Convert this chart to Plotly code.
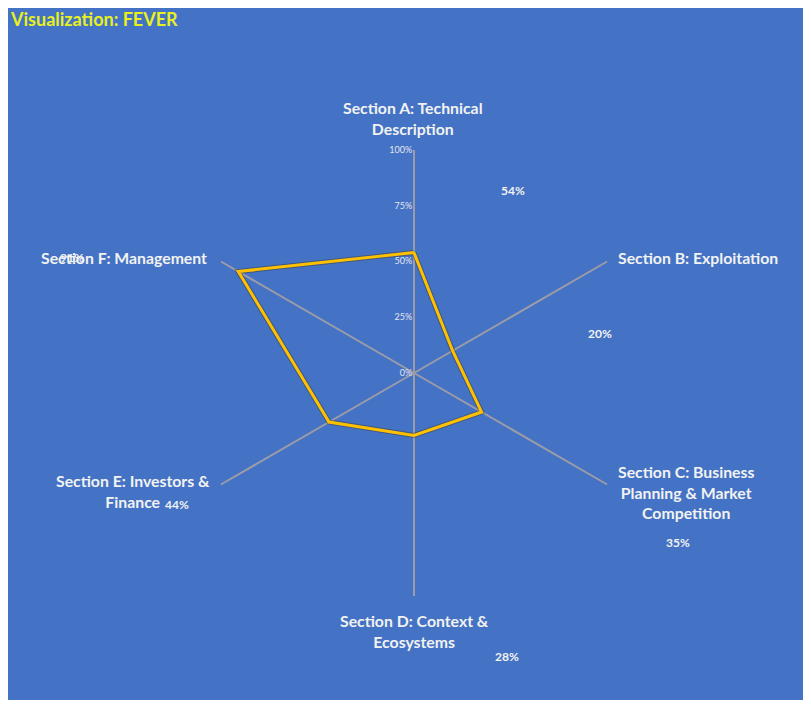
import plotly.graph_objects as go

# page has an 8px body margin, so the figure is sized to fit inside the window
OFF = 8
W, H = 811 - OFF, 708 - 2 * OFF

categories = [
    "Section A: Technical<br>Description",
    "Section B: Exploitation",
    "Section C: Business<br>Planning & Market<br>Competition",
    "Section D: Context &<br>Ecosystems",
    "Section E: Investors &<br>Finance",
    "Section F: Management",
]
values = [0.54, 0.20, 0.35, 0.28, 0.44, 0.91]
value_labels = ["54%", "20%", "35%", "28%", "44%", "91%"]
radial_ticks = [0, 0.25, 0.5, 0.75, 1.0]
radial_ticktext = ["0%", "25%", "50%", "75%", "100%"]

# window-pixel positions for the category and value labels (as in the reference)
cat_pos = [(413, 118), (698, 257), (686, 492), (414, 631), (133, 491), (124, 257)]
val_pos = [(513, 190), (600, 333), (678, 542), (507, 656), (177, 504), (72, 257)]

BLUE = "#4472C4"
GRID = "#9C9CA8"
TXT = "#F2F2F2"


def px(x):
    return (x - OFF) / W


def py(y):
    return 1 - (y - OFF) / H


fig = go.Figure()
# soft shadow under the line
fig.add_trace(go.Scatterpolar(
    r=values + values[:1], theta=categories + categories[:1], mode="lines",
    line=dict(color="rgba(60,50,20,0.4)", width=5), hoverinfo="skip", showlegend=False,
))
fig.add_trace(go.Scatterpolar(
    r=values + values[:1], theta=categories + categories[:1], mode="lines",
    line=dict(color="#FFC000", width=3), name="FEVER", showlegend=False,
))

cx, cy, R = 414, 373, 223
fig.update_layout(
    width=W, height=H,
    margin=dict(l=0, r=0, t=0, b=0),
    paper_bgcolor=BLUE,
    showlegend=False,
    polar=dict(
        bgcolor=BLUE,
        domain=dict(x=[px(cx - R), px(cx + R)], y=[py(cy + R), py(cy - R)]),
        angularaxis=dict(
            direction="clockwise", rotation=90, type="category",
            showgrid=True, gridcolor=GRID, gridwidth=2,
            showline=False, showticklabels=False, ticks="",
        ),
        radialaxis=dict(
            range=[0, 1], angle=90, side="counterclockwise", tickangle=90,
            tickvals=radial_ticks, ticktext=radial_ticktext,
            showgrid=False, showline=False, ticks="",
            tickfont=dict(family="Lato", size=9, color="#E4E6F0"),
        ),
    ),
)

fig.add_annotation(
    text="<b>Visualization: FEVER</b>", xref="paper", yref="paper",
    x=px(8), y=py(19), xanchor="left", yanchor="middle", showarrow=False,
    font=dict(family="Lato", size=18, color="#E8F020"),
)

for name, (x, y) in zip(categories, cat_pos):
    fig.add_annotation(
        text="<b>" + name + "</b>", xref="paper", yref="paper",
        x=px(x), y=py(y), xanchor="center", yanchor="middle", align="center",
        showarrow=False, font=dict(family="Lato", size=15.8, color=TXT),
    )

for lab, (x, y) in zip(value_labels, val_pos):
    fig.add_annotation(
        text="<b>" + lab + "</b>", xref="paper", yref="paper",
        x=px(x), y=py(y), xanchor="center", yanchor="middle",
        showarrow=False, font=dict(family="Lato", size=12, color=TXT),
    )

fig.write_html("out.html")
